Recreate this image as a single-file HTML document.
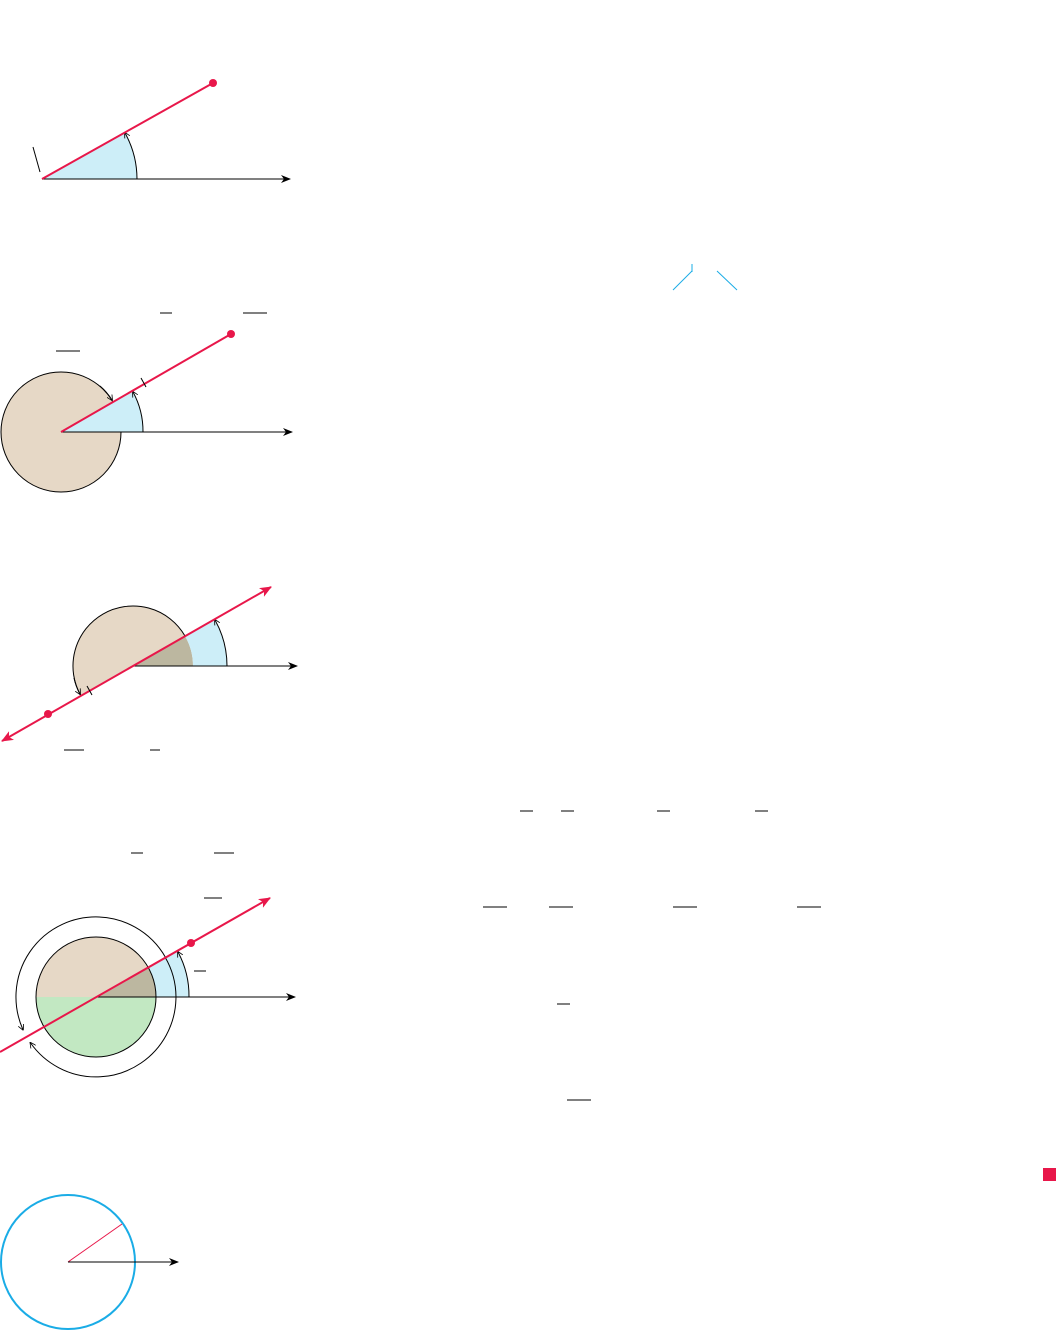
<!DOCTYPE html>
<html><head><meta charset="utf-8"><style>body{margin:0;background:#fff}svg{display:block}</style></head>
<body>
<svg width="1056" height="1330" viewBox="0 0 1056 1330" xmlns="http://www.w3.org/2000/svg">
<defs>
<marker id="ah" markerWidth="10" markerHeight="8" refX="9" refY="4" orient="auto" markerUnits="userSpaceOnUse"><path d="M0,0 L10,4 L0,8 L3,4 Z" fill="#000"/></marker>
<marker id="rh" markerWidth="12" markerHeight="10" refX="11" refY="5" orient="auto-start-reverse" markerUnits="userSpaceOnUse"><path d="M0,0 L12,5 L0,10 L3,5 Z" fill="#e8174a"/></marker>
<marker id="sa" markerWidth="6" markerHeight="6" refX="5" refY="3" orient="auto-start-reverse" markerUnits="userSpaceOnUse"><path d="M0,0 L6,3 L0,6" fill="none" stroke="#000" stroke-width="0.8"/></marker>
</defs>
<g>
<path d="M42,179 L137,179 A95,95 0 0 0 125,132 Z" fill="#cdeef8"/>
<path d="M137,179 A95,95 0 0 0 125,133" fill="none" stroke="#000" stroke-width="1" marker-end="url(#sa)"/>
<line x1="42" y1="179" x2="290" y2="179" stroke="#000" marker-end="url(#ah)"/>
<line x1="42" y1="179" x2="213" y2="83" stroke="#e8174a" stroke-width="2"/>
<circle cx="213" cy="83" r="4" fill="#e8174a"/>
<line x1="33" y1="147" x2="40" y2="172" stroke="#000"/>
</g>
<g>
<circle cx="61" cy="432" r="60" fill="#e6d8c6" stroke="#000"/>
<path d="M100,386 A60,60 0 0 1 112,400" fill="none" stroke="#000" marker-end="url(#sa)"/>
<path d="M61,432 L143,432 A82,82 0 0 0 132,391 Z" fill="#cdeef8"/>
<path d="M143,432 A82,82 0 0 0 133,392" fill="none" stroke="#000" marker-end="url(#sa)"/>
<line x1="61" y1="432" x2="292" y2="432" stroke="#000" marker-end="url(#ah)"/>
<line x1="61" y1="432" x2="231" y2="334" stroke="#e8174a" stroke-width="2"/>
<circle cx="231" cy="334" r="4" fill="#e8174a"/>
<line x1="141" y1="378" x2="146" y2="387" stroke="#000"/>
<line x1="56" y1="351" x2="80" y2="351" stroke="#000"/><line x1="160" y1="313" x2="172" y2="313" stroke="#000"/><line x1="243" y1="313" x2="267" y2="313" stroke="#000"/>
</g>
<g>
<path d="M133,666 L185,636 A60,60 0 0 0 81,696 Z" fill="#e6d8c6" stroke="#000"/>
<path d="M133,666 L193,666 A60,60 0 0 0 185,636 Z" fill="#bcb7a0"/>
<path d="M193,666 L227,666 A94,94 0 0 0 214,619 L185,636 A60,60 0 0 1 193,666 Z" fill="#cdeef8"/>
<path d="M227,666 A94,94 0 0 0 215,620" fill="none" stroke="#000" marker-end="url(#sa)"/>
<path d="M74,678 A60,60 0 0 0 80,694" fill="none" stroke="#000" marker-end="url(#sa)"/>
<line x1="133" y1="666" x2="297" y2="666" stroke="#000" marker-end="url(#ah)"/>
<line x1="2" y1="741" x2="271" y2="587" stroke="#e8174a" stroke-width="2" marker-start="url(#rh)" marker-end="url(#rh)"/>
<circle cx="48" cy="714" r="4" fill="#e8174a"/>
<line x1="87" y1="686" x2="92" y2="695" stroke="#000"/>
<line x1="64" y1="750" x2="84" y2="750" stroke="#000"/><line x1="150" y1="750" x2="160" y2="750" stroke="#000"/>
</g>
<g>
<path d="M30.5,1042.9 A80,80 0 1 0 22.9,1029.5" fill="none" stroke="#000" marker-start="url(#sa)" marker-end="url(#sa)"/>
<path d="M36,997 A60,60 0 0 1 156,997 Z" fill="#e6d8c6"/>
<path d="M36,997 A60,60 0 0 0 156,997 Z" fill="#c2e8c2"/>
<path d="M96,997 L156,997 A60,60 0 0 0 148,967 Z" fill="#bcb7a0"/>
<path d="M156,997 L189,997 A93,93 0 0 0 177,951 L148,967 A60,60 0 0 1 156,997 Z" fill="#cdeef8"/>
<circle cx="96" cy="997" r="60" fill="none" stroke="#000"/>
<path d="M176,997 A80,80 0 0 0 165,957" fill="none" stroke="#000"/>
<path d="M189,997 A93,93 0 0 0 178,952" fill="none" stroke="#000" marker-end="url(#sa)"/>
<line x1="96" y1="997" x2="295" y2="997" stroke="#000" marker-end="url(#ah)"/>
<line x1="0" y1="1052" x2="270" y2="898" stroke="#e8174a" stroke-width="2" marker-end="url(#rh)"/>
<circle cx="191" cy="943" r="4" fill="#e8174a"/>
<line x1="131" y1="853" x2="143" y2="853" stroke="#000"/><line x1="214" y1="853" x2="234" y2="853" stroke="#000"/><line x1="204" y1="898" x2="222" y2="898" stroke="#000"/><line x1="194" y1="971" x2="206" y2="971" stroke="#000"/>
</g>
<g>
<circle cx="68" cy="1262" r="67" fill="none" stroke="#1aace6" stroke-width="2"/>
<line x1="68" y1="1262" x2="122" y2="1224" stroke="#e8174a"/>
<line x1="68" y1="1262" x2="178" y2="1262" stroke="#000" marker-end="url(#ah)"/>
</g>
<g stroke="#000">
<line x1="520" y1="811" x2="533" y2="811"/><line x1="561" y1="811" x2="574" y2="811"/><line x1="657" y1="811" x2="670" y2="811"/><line x1="755" y1="811" x2="768" y2="811"/>
<line x1="483" y1="907" x2="507" y2="907"/><line x1="549" y1="907" x2="573" y2="907"/><line x1="673" y1="907" x2="697" y2="907"/><line x1="797" y1="907" x2="821" y2="907"/>
<line x1="557" y1="1004" x2="570" y2="1004"/><line x1="567" y1="1100" x2="591" y2="1100"/>
</g>
<g stroke="#1aace6">
<line x1="673" y1="290" x2="692" y2="271"/><line x1="692" y1="264" x2="692" y2="272"/><line x1="717" y1="271" x2="737" y2="290"/>
</g>
<rect x="1043" y="1168" width="13" height="13" fill="#e8174a"/>
</svg>
</body></html>
